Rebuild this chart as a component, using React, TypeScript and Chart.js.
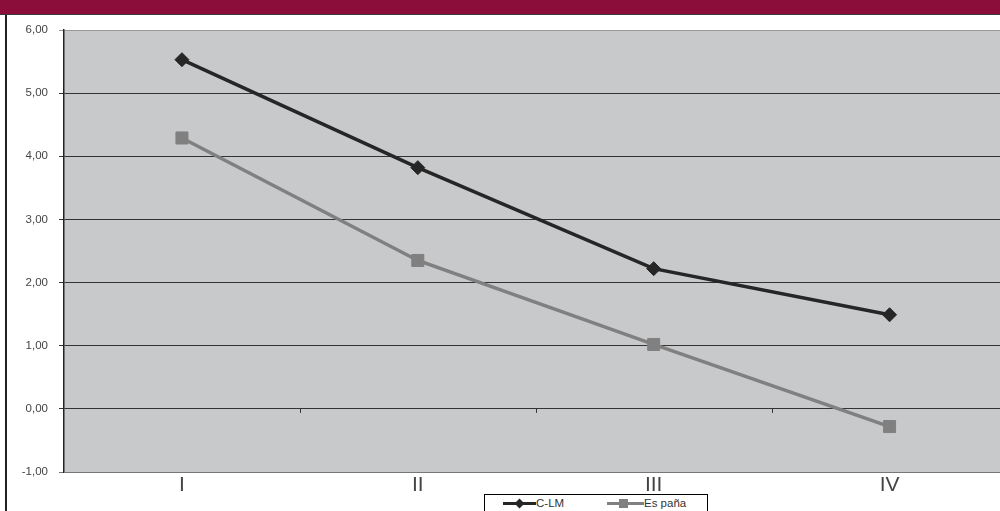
import React, { useEffect, useRef } from "react";
import { Chart, registerables } from "chart.js";

Chart.register(...registerables);

const categories = ["I", "II", "III", "IV"];
const clmValues = [5.53, 3.82, 2.22, 1.49];
const espanaValues = [4.29, 2.35, 1.02, -0.28];
const seriesNames = ["C-LM", "Es paña"];
const yMin = -1;
const yMax = 6;

const plotBg = {
  id: "plotBg",
  beforeDraw(chart: any) {
    const { ctx, chartArea } = chart;
    ctx.save();
    ctx.fillStyle = "#C8C9CB";
    ctx.fillRect(chartArea.left, chartArea.top, chartArea.right - chartArea.left, chartArea.bottom - chartArea.top);
    ctx.restore();
  },
  beforeDatasetsDraw(chart: any) {
    const { ctx } = chart;
    const xs = chart.scales.x;
    const ys = chart.scales.y;
    const y0 = ys.getPixelForValue(0);
    ctx.save();
    ctx.strokeStyle = "#333";
    ctx.lineWidth = 1;
    for (let i = 0; i < categories.length - 1; i++) {
      const x = Math.round((xs.getPixelForValue(i) + xs.getPixelForValue(i + 1)) / 2) + 0.5;
      ctx.beginPath();
      ctx.moveTo(x, y0);
      ctx.lineTo(x, y0 + 4);
      ctx.stroke();
    }
    ctx.restore();
  },
};

export default function App() {
  const ref = useRef<HTMLCanvasElement>(null);
  useEffect(() => {
    if (!ref.current) return;
    const chart = new Chart(ref.current, {
      type: "line",
      data: {
        labels: categories,
        datasets: [
          {
            label: seriesNames[0],
            data: clmValues,
            borderColor: "#262626",
            backgroundColor: "#262626",
            borderWidth: 3.5,
            pointStyle: "rectRot",
            pointRadius: 7,
            pointBorderWidth: 1,
            pointBackgroundColor: "#262626",
            pointBorderColor: "#262626",
            tension: 0,
          },
          {
            label: seriesNames[1],
            data: espanaValues,
            borderColor: "#808080",
            backgroundColor: "#808080",
            borderWidth: 3.5,
            pointStyle: "rect",
            pointRadius: 8.5,
            pointBorderWidth: 1,
            pointBackgroundColor: "#808080",
            pointBorderColor: "#808080",
            tension: 0,
          },
        ],
      },
      options: {
        responsive: false,
        animation: false,
        devicePixelRatio: 1,
        layout: { padding: { top: 30, left: 0, right: 1.5, bottom: 0 } },
        plugins: {
          legend: { display: false },
          tooltip: { enabled: false },
        },
        scales: {
          x: {
            offset: true,
            grid: { display: false, drawTicks: false },
            border: { display: false },
            ticks: {
              color: "#444",
              padding: 1,
              font: { family: "'Liberation Sans Narrow', 'Liberation Sans', Arial, sans-serif", size: 21, weight: "normal" },
            },
            afterFit(scale: any) {
              scale.height = 39;
            },
          },
          y: {
            min: yMin,
            max: yMax,
            ticks: {
              stepSize: 1,
              color: "#444",
              padding: 11,
              font: { family: "'Liberation Sans', Arial, sans-serif", size: 11.5 },
              callback: (v: any) => Number(v).toFixed(2).replace(".", ","),
            },
            grid: {
              color: (c: any) =>
                c.tick && c.tick.value === yMax ? "#999" : c.tick && c.tick.value === yMin ? "#777" : "#333",
              lineWidth: 1,
              tickLength: 5,
              drawTicks: true,
            },
            border: { display: true, color: "#222", width: 1.5 },
            afterFit(scale: any) {
              scale.width = 64;
            },
          },
        },
      },
      plugins: [plotBg],
    });
    return () => chart.destroy();
  }, []);

  return (
    <div style={{ position: "fixed", left: 0, top: 0, width: 1000, height: 511, overflow: "hidden", background: "#fff" }}>
      <div style={{ position: "absolute", left: 0, top: 0, width: 1000, height: 14, background: "#8B0E3A", borderBottom: "1.5px solid #3a3a3a" }} />
      <div style={{ position: "absolute", left: 5, top: 15, width: 2, height: 496, background: "#222" }} />
      <canvas ref={ref} width={1017} height={511} style={{ position: "absolute", left: 0, top: 0, width: 1017, height: 511 }} />
      <div
        style={{
          position: "absolute",
          left: 484,
          top: 494,
          width: 222,
          height: 22,
          border: "1px solid #000",
          background: "#fff",
          fontFamily: "'Liberation Sans', Arial, sans-serif",
          fontSize: 11.5,
          color: "#333",
        }}
      >
        <div style={{ position: "absolute", left: 18, top: 7, width: 33, height: 3, background: "#262626" }} />
        <div style={{ position: "absolute", left: 31, top: 5, width: 7, height: 7, background: "#262626", transform: "rotate(45deg)" }} />
        <div style={{ position: "absolute", left: 51, top: 2 }}>{seriesNames[0]}</div>
        <div style={{ position: "absolute", left: 122, top: 7, width: 37, height: 3, background: "#808080" }} />
        <div style={{ position: "absolute", left: 134, top: 4, width: 9, height: 9, background: "#808080" }} />
        <div style={{ position: "absolute", left: 159, top: 2 }}>{seriesNames[1]}</div>
      </div>
    </div>
  );
}
